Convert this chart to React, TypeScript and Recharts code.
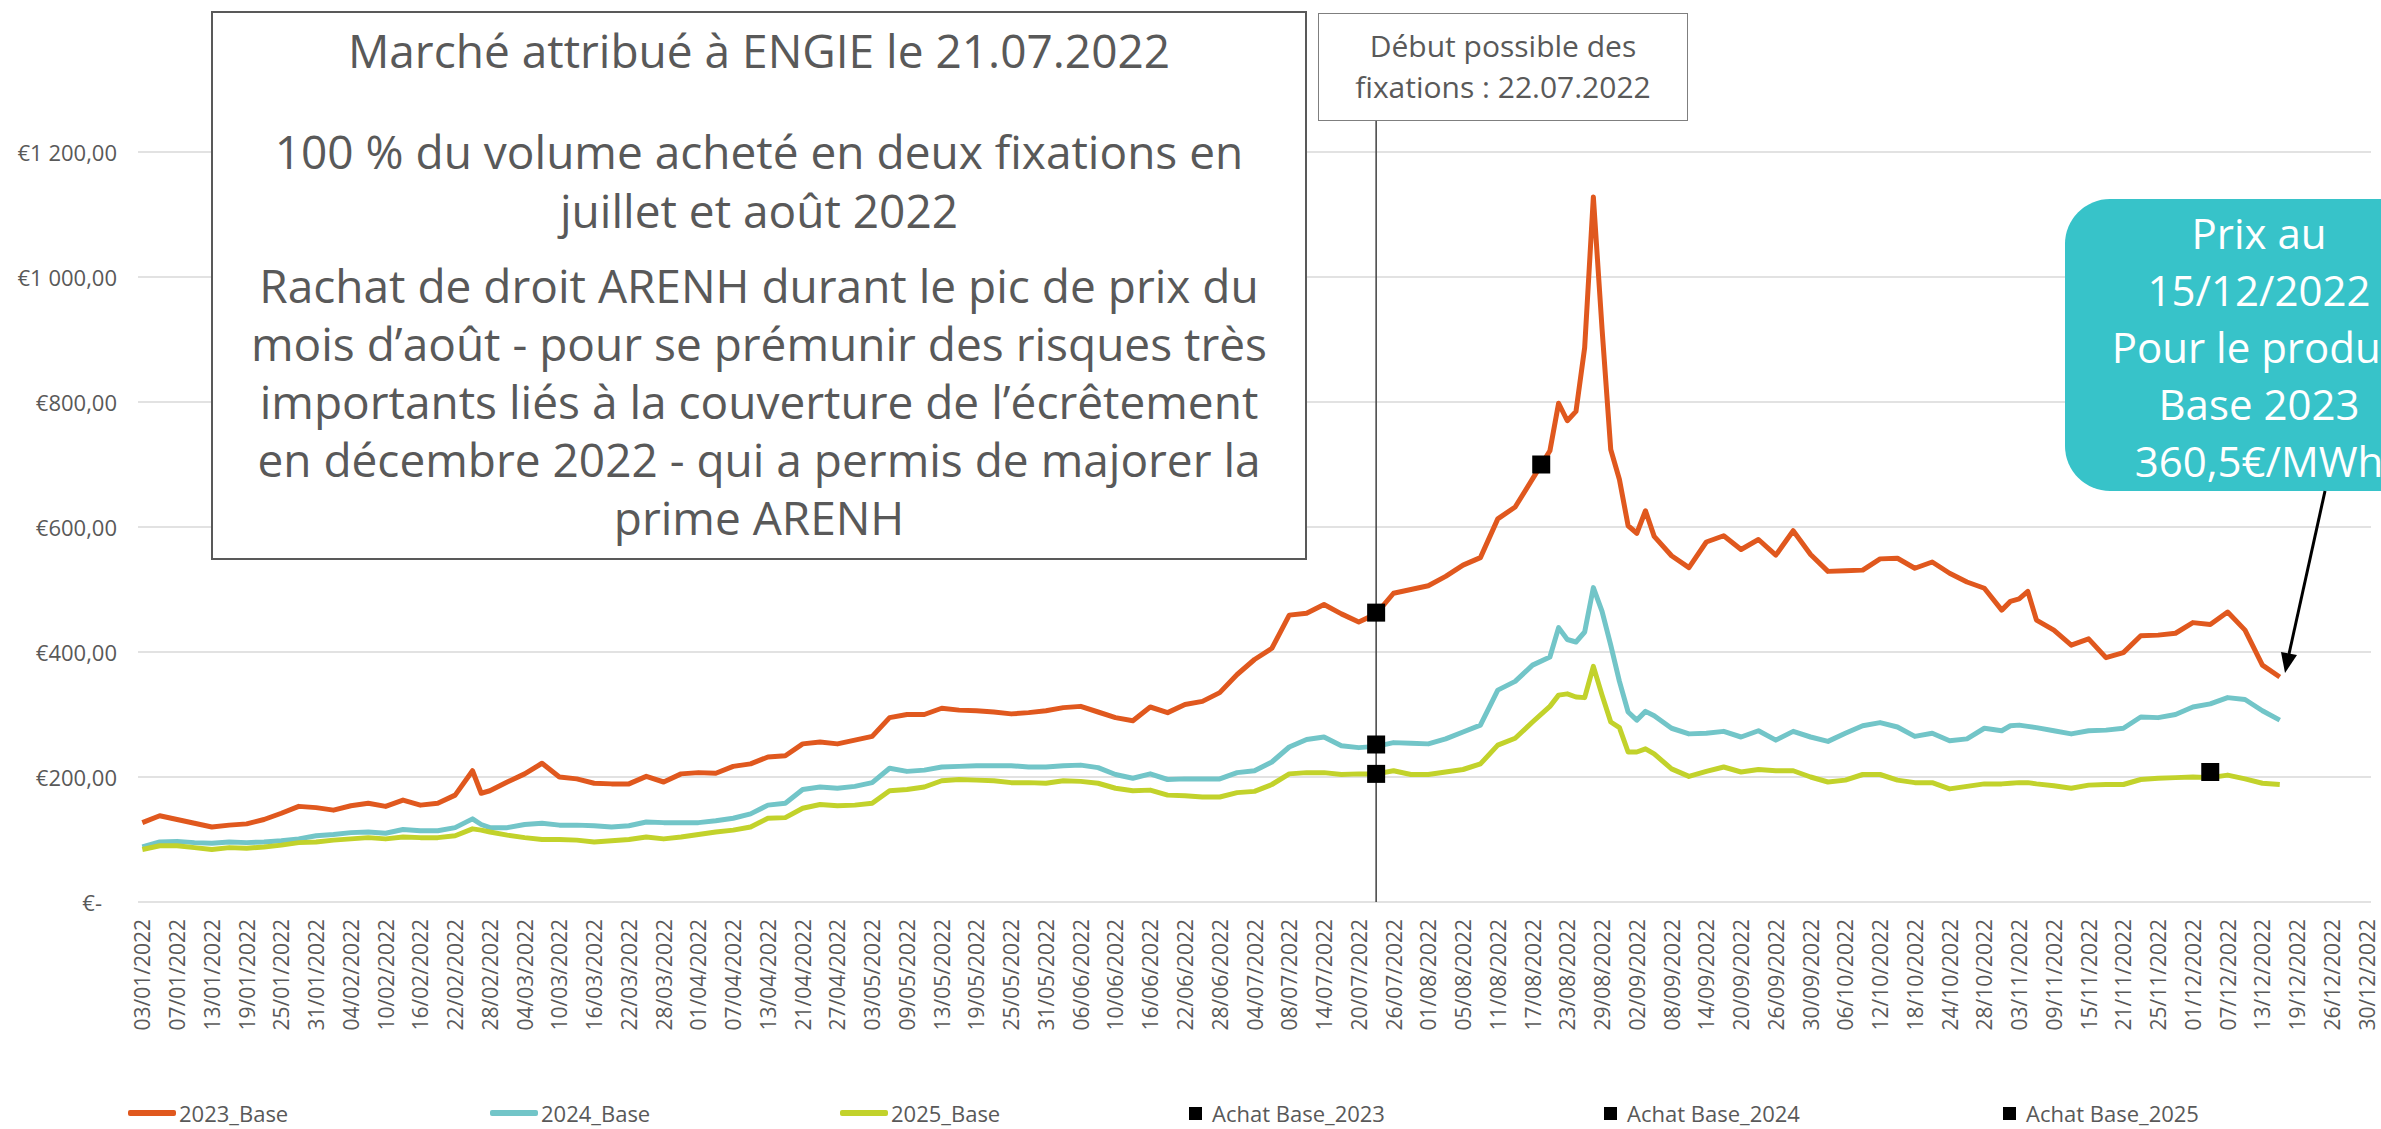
import React from "react"
import {
  ComposedChart,
  Line,
  Scatter,
  XAxis,
  YAxis,
  CartesianGrid,
  ReferenceLine,
  Legend,
} from "recharts"

// Trading-day index (0 = 03/01/2022) of each price reading
const tradingDay = [
  0, 2, 4, 6, 8, 10, 12, 14, 16, 18,
  20, 22, 24, 26, 28, 30, 32, 34, 36, 38,
  39, 40, 42, 44, 46, 48, 50, 52, 54, 56,
  58, 60, 62, 64, 66, 68, 70, 72, 74, 76,
  78, 80, 82, 84, 86, 88, 90, 92, 94, 96,
  98, 100, 102, 104, 106, 108, 110, 112, 114, 116,
  118, 120, 122, 124, 126, 128, 130, 132, 134, 136,
  138, 140, 142, 144, 146, 148, 150, 152, 154, 156,
  158, 160, 162, 163, 164, 165, 166, 167, 168, 169,
  170, 171, 172, 173, 174, 176, 178, 180, 182, 184,
  186, 188, 190, 192, 194, 196, 198, 200, 202, 204,
  206, 208, 210, 212, 214, 215, 216, 217, 218, 220,
  222, 224, 226, 228, 230, 232, 234, 236, 238, 240,
  242, 244, 246,
]

const base2023 = [
  127, 138, 132, 126, 120, 123, 125, 132, 142, 153,
  151, 147, 154, 158, 153, 163, 155, 158, 171, 210,
  174, 178, 192, 205, 222, 200, 197, 190, 189, 189,
  201, 192, 205, 207, 206, 217, 221, 232, 234, 253,
  256, 253, 259, 265, 295, 300, 300, 310, 307, 306,
  304, 301, 303, 306, 311, 313, 304, 295, 290, 312,
  303, 316, 321, 335, 364, 388, 406, 459, 462, 476,
  461, 448, 461, 494, 500, 506, 521, 539, 551, 613,
  632, 677, 722, 798, 770, 785, 887, 1128, 917, 724,
  676, 602, 590, 626, 585, 554, 535, 576, 586, 564,
  580, 555, 594, 556, 529, 530, 531, 549, 550, 534,
  544, 526, 512, 502, 467, 481, 485, 497, 451, 435,
  411, 421, 391, 399, 426, 427, 430, 447, 444, 464,
  435, 379, 360,
]

const base2024 = [
  88, 96, 97, 95, 94, 96, 95, 96, 98, 101,
  106, 108, 111, 112, 110, 116, 114, 114, 119, 133,
  124, 119, 119, 124, 126, 123, 123, 122, 120, 122,
  128, 127, 127, 127, 130, 134, 141, 155, 158, 180,
  184, 182, 185, 191, 214, 209, 211, 216, 217, 218,
  218, 218, 216, 216, 218, 219, 215, 204, 198, 205,
  196, 197, 197, 197, 207, 210, 224, 248, 260, 264,
  250, 247, 249, 255, 254, 253, 261, 272, 283, 339,
  353, 379, 392, 439, 420, 416, 432, 503, 465, 411,
  353, 304, 291, 305, 298, 278, 269, 270, 273, 264,
  274, 259, 273, 264, 257, 270, 282, 287, 280, 265,
  270, 258, 261, 278, 274, 282, 283, 281, 279, 274,
  269, 274, 275, 278, 296, 295, 300, 312, 317, 327,
  324, 306, 291,
]

const base2025 = [
  84, 90, 90, 87, 84, 87, 86, 88, 91, 95,
  96, 99, 101, 103, 101, 104, 103, 103, 106, 117,
  115, 112, 107, 103, 100, 100, 99, 96, 98, 100,
  104, 101, 104, 108, 112, 115, 120, 134, 135, 150,
  156, 154, 155, 158, 178, 180, 184, 194, 196, 195,
  194, 191, 191, 190, 194, 193, 190, 182, 178, 179,
  171, 170, 168, 168, 175, 177, 188, 205, 207, 207,
  204, 205, 205, 210, 204, 204, 208, 212, 221, 251,
  262, 288, 313, 331, 333, 328, 327, 377, 331, 288,
  279, 240, 240, 245, 237, 213, 201, 209, 216, 208,
  212, 210, 210, 200, 192, 195, 204, 204, 195, 191,
  191, 181, 185, 189, 189, 190, 191, 191, 189, 186,
  182, 187, 188, 188, 196, 198, 199, 200, 199, 203,
  197, 190, 188,
]

// Purchases (fixations)
const buy2023Day = [142, 161]
const buy2023Price = [463, 700]
const buy2024Day = [142]
const buy2024Price = [252]
const buy2025Day = [142, 238]
const buy2025Price = [205, 208]

// One label every 4 trading days
const dateTicks = [
  "03/01/2022", "07/01/2022", "13/01/2022", "19/01/2022", "25/01/2022", "31/01/2022", "04/02/2022", "10/02/2022", "16/02/2022", "22/02/2022",
  "28/02/2022", "04/03/2022", "10/03/2022", "16/03/2022", "22/03/2022", "28/03/2022", "01/04/2022", "07/04/2022", "13/04/2022", "21/04/2022",
  "27/04/2022", "03/05/2022", "09/05/2022", "13/05/2022", "19/05/2022", "25/05/2022", "31/05/2022", "06/06/2022", "10/06/2022", "16/06/2022",
  "22/06/2022", "28/06/2022", "04/07/2022", "08/07/2022", "14/07/2022", "20/07/2022", "26/07/2022", "01/08/2022", "05/08/2022", "11/08/2022",
  "17/08/2022", "23/08/2022", "29/08/2022", "02/09/2022", "08/09/2022", "14/09/2022", "20/09/2022", "26/09/2022", "30/09/2022", "06/10/2022",
  "12/10/2022", "18/10/2022", "24/10/2022", "28/10/2022", "03/11/2022", "09/11/2022", "15/11/2022", "21/11/2022", "25/11/2022", "01/12/2022",
  "07/12/2022", "13/12/2022", "19/12/2022", "26/12/2022", "30/12/2022",
]
const priceTicks = [0, 200, 400, 600, 800, 1000, 1200]

const fixationStartDay = 142 // 22/07/2022

// Colors
const orange = "#E0581E"
const teal = "#72C5C8"
const lime = "#C2D22B"
const calloutColor = "#37C3C9"
const textGray = "#595959"

const rows = tradingDay.map((day, k) => ({
  day,
  b23: base2023[k],
  b24: base2024[k],
  b25: base2025[k],
}))
const toPoints = (days: number[], prices: number[]) =>
  days.map((day, k) => ({ day, price: prices[k] }))
const buy23 = toPoints(buy2023Day, buy2023Price)
const buy24 = toPoints(buy2024Day, buy2024Price)
const buy25 = toPoints(buy2025Day, buy2025Price)

const tickDays = dateTicks.map((_, k) => k * 4)

const formatEuro = (v: number) => {
  if (v === 0) return "€-"
  const thousands = Math.floor(v / 1000)
  const rest = v % 1000
  const body = thousands > 0 ? `${thousands} ${String(rest).padStart(3, "0")}` : `${rest}`
  return `€${body},00`
}

const DateTick = (props: any) => {
  const { x, y, payload } = props
  const label = dateTicks[Math.round(payload.value / 4)]
  return (
    <text
      x={x}
      y={y}
      transform={`rotate(-90, ${x}, ${y})`}
      textAnchor="end"
      dominantBaseline="central"
      fill={textGray}
      fontSize={21}
      fontFamily="Open Sans"
    >
      {label}
    </text>
  )
}

const PriceTick = (props: any) => {
  const { x, y, payload } = props
  const zero = payload.value === 0
  return (
    <text
      x={zero ? x - 15 : x}
      y={y}
      textAnchor="end"
      dominantBaseline="central"
      fill={textGray}
      fontSize={22}
      fontFamily="Open Sans"
    >
      {formatEuro(payload.value)}
    </text>
  )
}

const squareMark = (props: any) => {
  const { cx, cy } = props
  return <rect x={cx - 9} y={cy - 9} width={18} height={18} fill="#000" />
}

const legendItems = [
  { name: "2023_Base", color: orange, kind: "line", width: 362 },
  { name: "2024_Base", color: teal, kind: "line", width: 350 },
  { name: "2025_Base", color: lime, kind: "line", width: 349 },
  { name: "Achat Base_2023", color: "#000", kind: "square", width: 415 },
  { name: "Achat Base_2024", color: "#000", kind: "square", width: 399 },
  { name: "Achat Base_2025", color: "#000", kind: "square", width: 300 },
]

const renderLegend = () => (
  <div style={{ display: "flex", alignItems: "center", paddingLeft: 128, height: 36 }}>
    {legendItems.map((item) => (
      <div key={item.name} style={{ display: "flex", alignItems: "center", width: item.width }}>
        {item.kind === "line" ? (
          <span style={{ display: "inline-block", width: 48, height: 6, background: item.color, borderRadius: 2 }} />
        ) : (
          <span style={{ display: "inline-block", width: 13, height: 13, background: item.color }} />
        )}
        <span
          style={{
            marginLeft: item.kind === "line" ? 3 : 10,
            fontSize: 22,
            color: textGray,
            fontFamily: "Open Sans",
          }}
        >
          {item.name}
        </span>
      </div>
    ))}
  </div>
)

const App: React.FC = () => {
  return (
    <div
      style={{
        position: "relative",
        width: 2381,
        height: 1129,
        overflow: "hidden",
        background: "#fff",
        fontFamily: "Open Sans, sans-serif",
      }}
    >
      <style>{"body{margin:0}"}</style>

      <ComposedChart
        width={2381}
        height={1129}
        data={rows}
        margin={{ top: 152, right: 10, bottom: 107, left: 0 }}
      >
        <CartesianGrid vertical={false} stroke="#D9D9D9" strokeWidth={1.5} />
        <XAxis
          dataKey="day"
          type="number"
          domain={[-0.5, 256.5]}
          ticks={tickDays}
          interval={0}
          axisLine={false}
          tickLine={false}
          tickSize={0}
          tickMargin={17}
          height={120}
          tick={<DateTick />}
        />
        <YAxis
          type="number"
          domain={[0, 1200]}
          ticks={priceTicks}
          axisLine={false}
          tickLine={false}
          tickSize={0}
          tickMargin={21}
          width={138}
          tick={<PriceTick />}
        />
        <ReferenceLine
          segment={[
            { x: fixationStartDay, y: 0 },
            { x: fixationStartDay, y: 1252 },
          ]}
          ifOverflow="visible"
          stroke="#404040"
          strokeWidth={1.5}
        />
        <Line
          type="linear"
          dataKey="b23"
          name="2023_Base"
          stroke={orange}
          strokeWidth={5}
          strokeLinejoin="round"
          dot={false}
          activeDot={false}
          isAnimationActive={false}
        />
        <Line
          type="linear"
          dataKey="b24"
          name="2024_Base"
          stroke={teal}
          strokeWidth={5}
          strokeLinejoin="round"
          dot={false}
          activeDot={false}
          isAnimationActive={false}
        />
        <Line
          type="linear"
          dataKey="b25"
          name="2025_Base"
          stroke={lime}
          strokeWidth={5}
          strokeLinejoin="round"
          dot={false}
          activeDot={false}
          isAnimationActive={false}
        />
        <Scatter name="Achat Base_2023" data={buy23} dataKey="price" shape={squareMark} isAnimationActive={false} />
        <Scatter name="Achat Base_2024" data={buy24} dataKey="price" shape={squareMark} isAnimationActive={false} />
        <Scatter name="Achat Base_2025" data={buy25} dataKey="price" shape={squareMark} isAnimationActive={false} />
        <Legend
          layout="horizontal"
          verticalAlign="middle"
          align="center"
          wrapperStyle={{ top: 1095, left: 0, width: 2381, height: 36 }}
          content={renderLegend}
        />
      </ComposedChart>

      {/* Main comment box */}
      <div
        style={{
          position: "absolute",
          left: 211,
          top: 11,
          width: 1096,
          height: 549,
          boxSizing: "border-box",
          border: "2px solid #595959",
          background: "#fff",
          color: textGray,
          fontSize: 46,
          textAlign: "center",
          whiteSpace: "nowrap",
        }}
      >
        <div style={{ position: "absolute", top: 9, left: 0, right: 0, lineHeight: "57px" }}>
          Marché attribué à ENGIE le 21.07.2022
        </div>
        <div style={{ position: "absolute", top: 109, left: 0, right: 0, lineHeight: "59px" }}>
          100 % du volume acheté en deux fixations en
          <br />
          juillet et août 2022
        </div>
        <div style={{ position: "absolute", top: 243, left: 0, right: 0, lineHeight: "58px" }}>
          Rachat de droit ARENH durant le pic de prix du
          <br />
          mois d’août - pour se prémunir des risques très
          <br />
          importants liés à la couverture de l’écrêtement
          <br />
          en décembre 2022 - qui a permis de majorer la
          <br />
          prime ARENH
        </div>
      </div>

      {/* Fixation start box */}
      <div
        style={{
          position: "absolute",
          left: 1318,
          top: 13,
          width: 370,
          height: 108,
          boxSizing: "border-box",
          border: "1.5px solid #7F7F7F",
          background: "#fff",
          color: textGray,
          fontSize: 30,
          lineHeight: "41px",
          textAlign: "center",
          paddingTop: 11,
          whiteSpace: "nowrap",
        }}
      >
        Début possible des
        <br />
        fixations : 22.07.2022
      </div>

      {/* Price callout (cut by the right edge, as in the original) */}
      <div
        style={{
          position: "absolute",
          left: 2065,
          top: 199,
          width: 388,
          height: 292,
          borderRadius: 45,
          background: calloutColor,
          color: "#fff",
          fontSize: 42,
          lineHeight: "57px",
          textAlign: "center",
          paddingTop: 5,
          boxSizing: "border-box",
          whiteSpace: "nowrap",
        }}
      >
        Prix au
        <br />
        15/12/2022
        <br />
        Pour le produit
        <br />
        Base 2023
        <br />
        360,5€/MWh
      </div>

      <svg
        width={2381}
        height={1129}
        style={{ position: "absolute", left: 0, top: 0, pointerEvents: "none" }}
      >
        <line x1={2325} y1={491} x2={2289} y2={654} stroke="#000" strokeWidth={3} />
        <polygon points="2285,673 2297,655 2281,652" fill="#000" />
      </svg>
    </div>
  )
}

export default App
